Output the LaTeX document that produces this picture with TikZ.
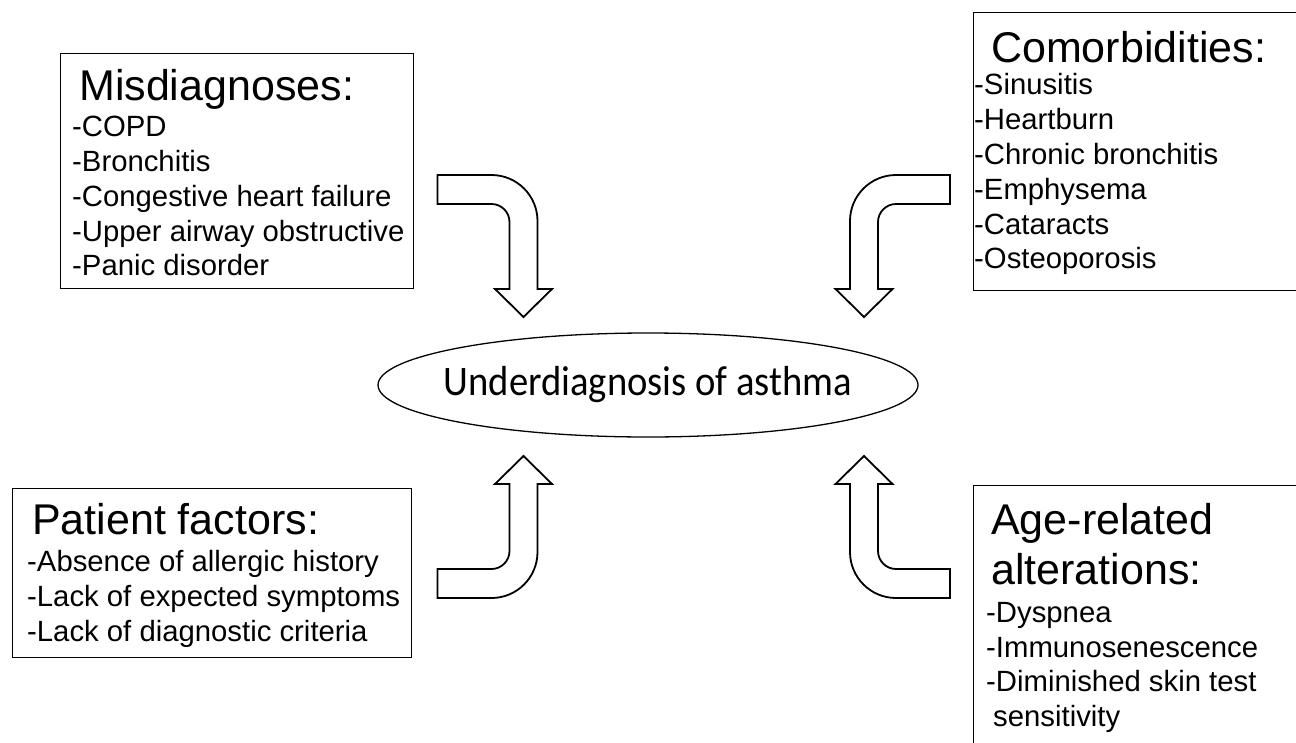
\documentclass[tikz,border=0pt]{standalone}
\usepackage{fontspec}
\setmainfont{Liberation Sans}
\newfontfamily\calibri{Carlito}
\usetikzlibrary{shapes.geometric}

\tikzset{
  box/.style={draw, line width=1.4pt, inner sep=0pt, anchor=north west},
  heading/.style={inner sep=0pt, anchor=north west, align=left,
    font=\fontsize{43}{50}\selectfont},
  itemlist/.style={inner sep=0pt, anchor=north west, align=left,
    font=\fontsize{29.3}{34.8}\selectfont},
  bent/.style={draw, line width=1.8pt, fill=white},
}
% bent block arrow, tip at the origin, pointing down, tail to the left
\newcommand{\bentarrow}{(-86,-142) -- (-32,-142)
  .. controls (-6.6,-142) and (14,-121.4) .. (14,-96) -- (14,-28)
  -- (28.5,-28) -- (0,0) -- (-28.5,-28) -- (-14,-28) -- (-14,-95)
  .. controls (-14,-104.9) and (-22.1,-113) .. (-32,-113)
  -- (-86,-113) -- cycle}

\begin{document}
\begin{tikzpicture}[x=1pt, y=-1pt]
  \clip (0,0) rectangle (1296,742);
  \fill[white] (0,0) rectangle (1296,742);

  % centre
  \node[draw, ellipse, line width=1.3pt, minimum width=540pt,
    minimum height=104pt, inner sep=0pt] (asthma) at (648,385) {};
  \node[font=\calibri\fontsize{42}{50}\selectfont] (asthmatext)
    at (asthma.center) {\scalebox{0.92}[1]{Underdiagnosis of asthma}};

  % four boxes
  \node[box, minimum width=353pt, minimum height=235pt] (misbox) at (60,53) {};
  \node[heading] (mistitle) at (79,69) {Misdiagnoses:};
  \node[itemlist] (mislist) at (72,116) {-COPD\\-Bronchitis\\
    -Congestive heart failure\\-Upper airway obstructive\\-Panic disorder};

  \node[box, minimum width=399pt, minimum height=169pt] (patbox) at (12,488) {};
  \node[heading] (pattitle) at (32,503) {Patient factors:};
  \node[itemlist] (patlist) at (27,550) {-Absence of allergic history\\
    -Lack of expected symptoms\\-Lack of diagnostic criteria};

  \node[box, minimum width=340pt, minimum height=278pt] (combox) at (973,12) {};
  \node[heading] (comtitle) at (991,31) {Comorbidities:};
  \node[itemlist] (comlist) at (974,73.5) {-Sinusitis\\-Heartburn\\
    -Chronic bronchitis\\-Emphysema\\-Cataracts\\-Osteoporosis};

  \node[box, minimum width=340pt, minimum height=280pt] (agebox) at (973,485) {};
  \node[heading] (agetitle) at (991,503) {Age-related\\alterations:};
  \node[itemlist] (agelist) at (986,602) {-Dyspnea\\-Immunosenescence\\
    -Diminished skin test\\\hspace*{0.24em}sensitivity};

  % bent arrows
  \begin{scope}[shift={(523.5,317)}]
    \draw[bent] \bentarrow;
  \end{scope}
  \begin{scope}[shift={(864,317)}, xscale=-1]
    \draw[bent] \bentarrow;
  \end{scope}
  \begin{scope}[shift={(523.5,456)}, yscale=-1]
    \draw[bent] \bentarrow;
  \end{scope}
  \begin{scope}[shift={(864,456)}, xscale=-1, yscale=-1]
    \draw[bent] \bentarrow;
  \end{scope}
\end{tikzpicture}
\end{document}
